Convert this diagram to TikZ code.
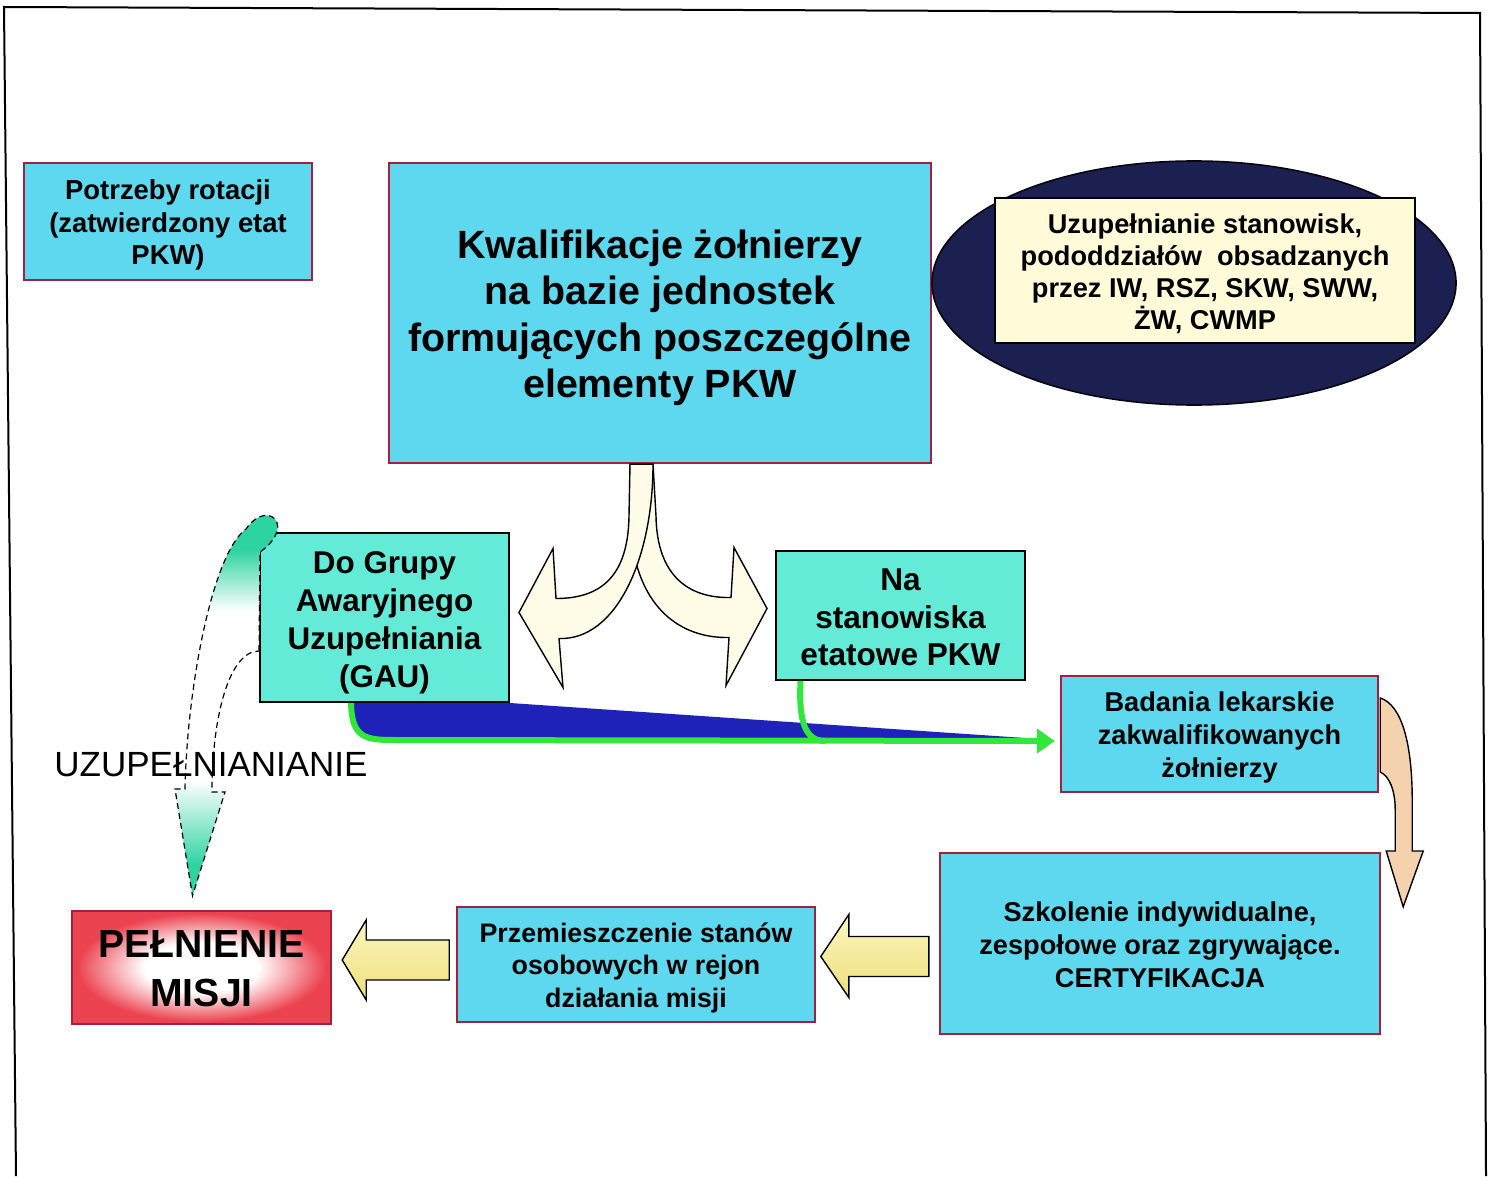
\documentclass[tikz,border=0pt]{standalone}
\usepackage{fontspec}
\setmainfont{Liberation Sans}
\usetikzlibrary{calc,arrows.meta,shapes.geometric}
\definecolor{cyanbox}{HTML}{5ED8EE}
\definecolor{turqbox}{HTML}{63EBD8}
\definecolor{boxred}{HTML}{A3203E}
\definecolor{navy}{HTML}{1C2050}
\definecolor{beige}{HTML}{FFFBD8}
\definecolor{cream}{HTML}{FFFCE8}
\definecolor{wedgeblue}{HTML}{1E22B8}
\definecolor{lgreen}{HTML}{33E63C}
\definecolor{peach}{HTML}{F5D2AE}
\definecolor{pelred}{HTML}{EC4350}
\definecolor{tealc}{HTML}{2ED3A2}
\definecolor{ylight}{HTML}{FBF6C0}
\definecolor{ydark}{HTML}{EEDF7A}
\pgfdeclareradialshading{pelshade}{\pgfpoint{0bp}{0bp}}{color(0bp)=(white); color(11bp)=(white); color(24bp)=(pelred); color(50bp)=(pelred)}
\pgfdeclareverticalshading{tealfade}{100bp}{color(0bp)=(tealc); color(29bp)=(tealc); color(40bp)=(white); color(62bp)=(white); color(70bp)=(tealc); color(100bp)=(tealc)}
\pgfdeclarelayer{bg}
\pgfsetlayers{bg,main}
\newcommand\fsz[2]{\fontsize{#1}{#2}\selectfont}
\begin{document}
\begin{tikzpicture}[x=0.5pt,y=-0.5pt,
  cbox/.style={rectangle, draw=boxred, line width=1.2pt, fill=cyanbox, inner sep=0pt},
  tbox/.style={rectangle, draw=black, line width=1pt, fill=turqbox, inner sep=0pt},
  txt/.style={align=center, inner sep=0pt},
  blk/.style={draw=black, line width=0.7pt, line join=miter},
  gline/.style={draw=lgreen, line width=3pt},
  yarrow/.style={blk, top color=ylight, bottom color=ydark}]
\useasboundingbox (0,0) rectangle (1491,1176);
% frame
\draw[line width=1pt] (16,1176) -- (4,7) -- (1480,13) -- (1486,1176);

% boxes
\node[cbox, minimum width=144pt, minimum height=58.5pt] (rot) at (168,221.5) {};
\node[cbox, minimum width=271pt, minimum height=150pt] (kwal) at (660,313) {};
\node[ellipse, draw=black!80!navy, line width=0.8pt, fill=navy, minimum width=262pt, minimum height=122pt] (ell) at (1194,283) {};
\node[rectangle, draw=black, line width=1pt, fill=beige, inner sep=0pt, minimum width=210pt, minimum height=72.5pt] (uzup) at (1205,270.5) {};
\node[tbox, minimum width=124.5pt, minimum height=84.5pt] (gau) at (384.5,617.5) {};
\node[tbox, minimum width=124.5pt, minimum height=64.5pt] (na) at (900.5,615.5) {};
\node[cbox, minimum width=158.5pt, minimum height=58pt] (bad) at (1219.5,734) {};
\node[cbox, minimum width=220pt, minimum height=90.5pt] (szk) at (1160,943.5) {};
\node[cbox, minimum width=179pt, minimum height=57.5pt] (prz) at (636,964.5) {};
\node[rectangle, draw=boxred, line width=1.2pt, shading=pelshade, inner sep=0pt, minimum width=129.5pt, minimum height=56.5pt] (pel) at (201.5,967.5) {};

% box texts
\node[txt, font=\bfseries\fsz{13.7}{16.25}] (rott) at ($(rot.center)+(0,3.5)$) {Potrzeby rotacji\\(zatwierdzony etat\\PKW)};
\node[txt, font=\bfseries\fsz{19.7}{23.25}] (kwalt) at ($(kwal.center)+(0,5)$) {Kwalifikacje żołnierzy\\na bazie jednostek\\formujących poszczególne\\elementy PKW};
\node[txt, font=\bfseries\fsz{13.6}{16}] (uzupt) at ($(uzup.center)+(0,3)$) {Uzupełnianie stanowisk,\\pododdziałów\ \ obsadzanych\\przez IW, RSZ, SKW, SWW,\\ŻW, CWMP};
\node[txt, font=\bfseries\fsz{15.7}{19}] (gaut) at ($(gau.center)+(0,5)$) {Do Grupy\\Awaryjnego\\Uzupełniania\\(GAU)};
\node[txt, font=\bfseries\fsz{15.8}{18.75}] (nat) at ($(na.center)+(0,2)$) {Na\\stanowiska\\etatowe PKW};
\node[txt, font=\bfseries\fsz{13.6}{16.5}] (badt) at ($(bad.center)+(0,3)$) {Badania lekarskie\\zakwalifikowanych\\żołnierzy};
\node[txt, font=\bfseries\fsz{13.6}{16.5}] (szkt) at ($(szk.center)+(0,1)$) {Szkolenie indywidualne,\\zespołowe oraz zgrywające.\\CERTYFIKACJA};
\node[txt, font=\bfseries\fsz{13.4}{16.25}] (przt) at ($(prz.center)+(0,3)$) {Przemieszczenie stanów\\osobowych w rejon\\działania misji};
\node[txt, font=\bfseries\fsz{19.6}{24.5}] (pelt) at ($(pel.center)+(0,1)$) {PEŁNIENIE\\MISJI};

% background connectors: blue wedge and green lines
\begin{pgfonlayer}{bg}
\fill[wedgeblue] ($(gau.south west)+(94,-4)$) -- (gau.south east) -- ($(bad.west)+(-20,5)$) -- ($(gau.south west)+(140,39)$) .. controls ($(gau.south west)+(105,39)$) and ($(gau.south west)+(94,28)$) .. cycle;
\draw[gline, -{Triangle[length=9pt,width=12pt]}] ($(gau.south west)+(92,-2)$) .. controls +(0,38) and +(-30,0) .. ++(45,39) -- ($(bad.west)+(-5,7)$);
\draw[gline] ($(na.south)+(-100,0)$) .. controls +(-2,42) and +(-20,0) .. ++(25,60);
\end{pgfonlayer}

% split arrow from the main box
\draw[blk, fill=cream] ($(kwal.south)+(-7,0)$) -- ++(3,52) .. controls ++(1,60) and ++(-42,1) .. ($(na.west)+(-44,-18)$) -- ++(3,-50) -- ($(na.west)+(-8,-7)$) -- ++(-41,77) -- ++(3,-48) .. controls ++(-50,1) and ++(8,65) .. ($(kwal.south)+(-28,77)$) -- ($(kwal.south)+(-30,0)$) -- cycle;
\draw[blk, fill=cream] ($(kwal.south)+(-30,0)$) -- ++(-1,52) .. controls ++(-1,60) and ++(45,0) .. ($(gau.east)+(46,-19)$) -- ++(-3,-50) -- ($(gau.east)+(9,-5)$) -- ++(44,75) -- ++(-4,-49) .. controls ++(57,2) and ++(0,95) .. ($(kwal.south)+(-7,0)$) -- cycle;

% yellow block arrows
\draw[yarrow, shift={($(pel.east)+(10,-7.5)$)}] (0,0) -- (24,-40) -- (24,-20) -- (107,-20) -- (107,20) -- (24,20) -- (24,40) -- cycle;
\draw[yarrow, shift={($(szk.west)+(-118,13)$)}] (0,0) -- (28,-42) -- (28,-20) -- (108,-20) -- (108,20) -- (28,20) -- (28,41) -- cycle;

% peach curved arrow
\draw[blk, fill=peach] ($(bad.east)+(1,-36)$) .. controls +(22,7) and +(0,-55) .. ($(bad.east)+(33,66)$) -- ++(0,51) -- ++(11,0) -- ($(szk.north east)+(22,55)$) -- ($(bad.east)+(7,117)$) -- ++(9,0) -- ++(0,-41) .. controls +(0,-20) and +(9,4) .. ($(bad.east)+(1,38)$) -- cycle;

% dashed curved arrow to the mission box
\draw[black, densely dashed, line width=0.6pt, shading=tealfade]
  ($(gau.north west)+(0,119)$) -- ($(gau.north west)+(1,20)$)
  .. controls +(12,-8) and +(8,10) .. ($(gau.north west)+(16,-13)$)
  .. controls +(-8,-8) and +(8,-12) .. ($(gau.north west)+(-13,-3)$)
  .. controls +(-34,25) and +(2,-100) .. ($(gau.north west)+(-74,257)$)
  -- ($(gau.north west)+(-84,257)$) -- ($(pel.north)+(-9,-14)$) -- ($(gau.north west)+(-34,260)$) -- ($(gau.north west)+(-47,260)$)
  .. controls +(0,-75) and +(-30,0) .. cycle;

\node[font=\fsz{17.5}{20}, inner sep=0pt] (lbl) at (211,765) {UZUPEŁNIANIANIE};
\end{tikzpicture}
\end{document}
